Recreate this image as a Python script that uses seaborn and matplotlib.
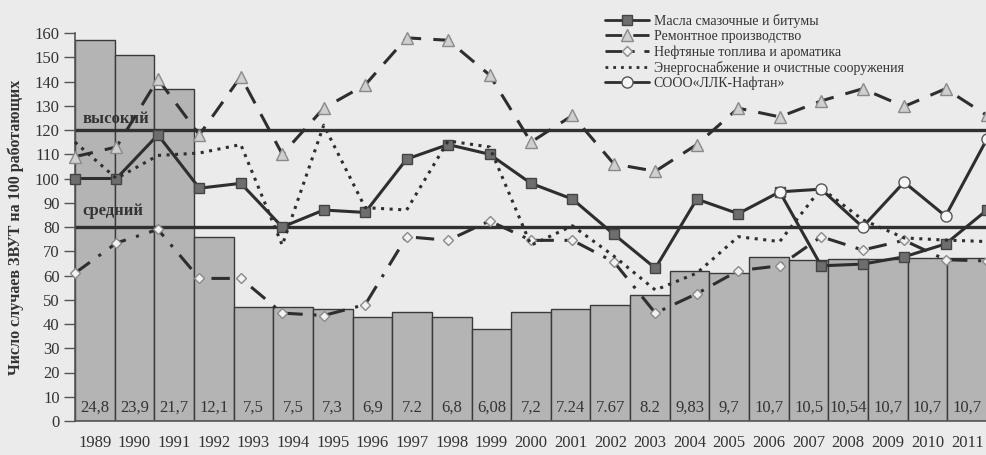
import numpy as np
import pandas as pd
import matplotlib
matplotlib.use("Agg")
import matplotlib.pyplot as plt
import seaborn as sns

years = [str(y) for y in range(1989, 2012)]
bar_values = [157, 151, 137, 76, 47, 47, 46, 43, 45, 43, 38, 45, 46, 48, 52,
              62, 61, 67.5, 66.5, 66.7, 67, 67.3, 67.3]
bar_labels = ["24,8", "23,9", "21,7", "12,1", "7,5", "7,5", "7,3", "6,9", "7.2",
              "6,8", "6,08", "7,2", "7.24", "7.67", "8.2", "9,83", "9,7", "10,7",
              "10,5", "10,54", "10,7", "10,7", "10,7"]

maslo = [100, 100, 118, 96, 98, 80, 87, 86, 108, 114, 110, 98, 91.5, 77, 63,
         91.5, 85.5, 94.5, 64, 64.7, 67.7, 73, 87]
remont = [109, 113, 141, 118, 142, 110, 129, 138.6, 158, 157, 142.7, 115, 126,
          106, 103, 114, 129, 125.4, 132, 137, 129.7, 137, 126]
neft = [61, 73.4, 79, 58.8, 58.8, 44.5, 43.5, 48, 76, 74.5, 82.5, 74.5, 74.5,
        65.6, 44.5, 52.5, 62, 64, 76, 70.5, 74.5, 66.5, 66]
energo = [115, 100, 109.5, 110.5, 114, 72.5, 122, 88, 87, 115.5, 113, 72.5, 80.5,
          68, 54, 61, 76, 74, 96, 83, 75.5, 74.6, 74]
sooo = [np.nan] * 17 + [94.5, 95.6, 80, 98.5, 84.5, 116.3]

series_names = ["Масла смазочные и битумы", "Ремонтное производство",
                "Нефтяные топлива и ароматика",
                "Энергоснабжение и очистные сооружения", "СООО«ЛЛК-Нафтан»"]
level_values = [120, 80]
level_names = ["высокий", "средний"]
yticks = list(range(0, 161, 10))

sns.set_theme(style="white")
plt.rcParams["font.family"] = ["Liberation Serif", "DejaVu Serif"]
BG = "#ebebeb"

fig = plt.figure(figsize=(9.87, 4.55), dpi=100, facecolor=BG)
ax = fig.add_axes([75 / 987, 1 - 421 / 455, 912 / 987, (421 - 33) / 455])
ax.set_facecolor(BG)

df_bar = pd.DataFrame({"year": years, "value": bar_values})
sns.barplot(data=df_bar, x="year", y="value", ax=ax, color="#b4b4b4",
            saturation=1, width=1.0, edgecolor="#3a3a3a", linewidth=1.0, zorder=1)

n = len(years)
xline = -0.5 + np.arange(n) * n / (n - 1)

for v in level_values:
    ax.axhline(v, color="#303030", lw=2.4, zorder=2)
ax.text(-0.32, level_values[0] + 1.2, level_names[0], fontsize=12, fontweight="bold",
        color="#333333", va="bottom", ha="left", zorder=3)
ax.text(-0.32, level_values[1] + 3.5, level_names[1], fontsize=12, fontweight="bold",
        color="#333333", va="bottom", ha="left", zorder=3)

styles = [
    dict(data=maslo, ls="-", marker="s", ms=7.5, mfc="#6e6e6e", mec="#444444"),
    dict(data=remont, ls=(0, (6, 4)), marker="^", ms=8.5, mfc="#cfcfcf", mec="#8a8a8a"),
    dict(data=neft, ls=(0, (6, 3.5, 1, 3.5)), marker="D", ms=5, mfc="#f2f2f2", mec="#8a8a8a"),
    dict(data=energo, ls=(0, (1, 1.8)), marker=None, ms=0, mfc="none", mec="none"),
    dict(data=sooo, ls="-", marker="o", ms=8, mfc="#f7f7f7", mec="#555555"),
]
handles = []
for name, st in zip(series_names, styles):
    d = pd.DataFrame({"x": xline, "y": st["data"]})
    sns.lineplot(data=d, x="x", y="y", ax=ax, color="#2e2e2e", lw=2.2,
                 linestyle=st["ls"], marker=st["marker"], markersize=st["ms"],
                 markerfacecolor=st["mfc"], markeredgecolor=st["mec"],
                 markeredgewidth=1.0, zorder=4, label=name, clip_on=False,
                 legend=False, sort=False)
    h, = ax.plot([], [], color="#2e2e2e", lw=2.0, linestyle=st["ls"],
                 marker=st["marker"], markersize=st["ms"],
                 markerfacecolor=st["mfc"], markeredgecolor=st["mec"])
    handles.append(h)

for i, lab in enumerate(bar_labels):
    ax.text(i, 5.5, lab, ha="center", va="center", fontsize=12, color="#333333",
            zorder=3)

ax.set_xlim(-0.5, n - 0.5)
ax.set_ylim(0, 160)
ax.set_yticks(yticks)
ax.set_yticklabels([str(t) for t in yticks], fontsize=12, color="#333333")
ax.set_xticks(range(n))
ax.set_xticklabels(years, fontsize=12, color="#333333")
ax.set_xticks(np.arange(n + 1) - 0.5, minor=True)
ax.tick_params(axis="x", which="major", length=0, pad=10)
ax.tick_params(axis="x", which="minor", length=6, width=1, color="#555555",
               direction="out")
ax.tick_params(axis="y", length=8, width=1, color="#555555", direction="out",
               left=True, pad=3)
ax.set_xlabel("")
ax.set_ylabel("Число случаев ЗВУТ на 100 работающих", fontsize=11.5,
              fontweight="bold", color="#333333", labelpad=8)
for s in ["top", "right"]:
    ax.spines[s].set_visible(False)
for s in ["left", "bottom"]:
    ax.spines[s].set_color("#555555")
    ax.spines[s].set_linewidth(1.2)
ax.grid(False)

leg = ax.legend(handles, series_names, loc="upper left",
                bbox_to_anchor=(598 / 987, 1 - 7 / 455), bbox_transform=fig.transFigure,
                frameon=False, fontsize=10, handlelength=3.2, handletextpad=0.3,
                labelspacing=0.15, borderpad=0)
for t in leg.get_texts():
    t.set_color("#333333")

fig.savefig("out.png", dpi=100, facecolor=BG)
